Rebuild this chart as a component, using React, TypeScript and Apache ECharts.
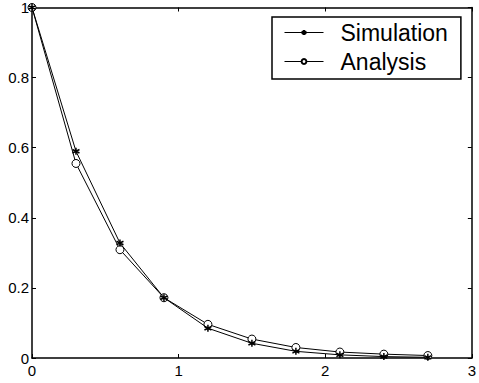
import React, { useEffect, useRef } from "react";
import * as echarts from "echarts";

const xValues = [0, 0.3, 0.6, 0.9, 1.2, 1.5, 1.8, 2.1, 2.4, 2.7];
const simulation = [1, 0.59, 0.328, 0.172, 0.085, 0.042, 0.019, 0.009, 0.004, 0.002];
const analysis = [1, 0.555, 0.309, 0.172, 0.096, 0.054, 0.03, 0.017, 0.011, 0.007];
const seriesNames = ["Simulation", "Analysis"];

const FONT = "Liberation Sans, Arial, Helvetica, sans-serif";
const STAR = "path://M0,-1L0,1M-0.87,-0.5L0.87,0.5M-0.87,0.5L0.87,-0.5";

export default function App() {
  const ref = useRef<HTMLDivElement>(null);
  useEffect(() => {
    if (!ref.current) return;
    const chart = echarts.init(ref.current, null, { renderer: "svg" });
    const axisCommon = {
      axisLine: { show: true, onZero: false, lineStyle: { color: "#000", width: 1.5 } },
      axisTick: { show: true, inside: true, length: 4, lineStyle: { color: "#000", width: 1 } },
      splitLine: { show: false },
    };
    chart.setOption({
      animation: false,
      backgroundColor: "#fff",
      grid: { left: 32, top: 6, right: 3, bottom: 25, show: false },
      legend: {
        orient: "vertical",
        left: 272,
        top: 17,
        data: seriesNames,
        backgroundColor: "#fff",
        borderColor: "#000",
        borderWidth: 1.5,
        padding: [4, 13, 6, 12],
        itemWidth: 39,
        itemHeight: 6,
        itemGap: 6,
        lineStyle: { width: 1 },
        textStyle: { color: "#000", fontSize: 23, fontFamily: FONT, lineHeight: 22, padding: [0, 0, 0, 12] },
      },
      xAxis: [
        {
          type: "value",
          min: 0,
          max: 3,
          interval: 1,
          position: "bottom",
          ...axisCommon,
          axisLabel: { color: "#000", fontSize: 15, fontFamily: FONT, margin: 5 },
        },
        {
          type: "value",
          min: 0,
          max: 3,
          interval: 1,
          position: "top",
          ...axisCommon,
          axisLabel: { show: false },
        },
      ],
      yAxis: [
        {
          type: "value",
          min: 0,
          max: 1,
          interval: 0.2,
          position: "left",
          ...axisCommon,
          axisLabel: { color: "#000", fontSize: 15, fontFamily: FONT, margin: 3 },
        },
        {
          type: "value",
          min: 0,
          max: 1,
          interval: 0.2,
          position: "right",
          ...axisCommon,
          axisLabel: { show: false },
        },
      ],
      series: [
        {
          name: seriesNames[0],
          type: "line",
          data: xValues.map((x, i) => [x, simulation[i]]),
          symbol: STAR,
          symbolSize: 7,
          showAllSymbol: true,
          lineStyle: { color: "#000", width: 1 },
          itemStyle: { color: "#000", borderColor: "#000", borderWidth: 1.5 },
          z: 3,
        },
        {
          name: seriesNames[1],
          type: "line",
          data: xValues.map((x, i) => [x, analysis[i]]),
          symbol: "circle",
          symbolSize: 8,
          showAllSymbol: true,
          lineStyle: { color: "#000", width: 1 },
          itemStyle: { color: "#fff", borderColor: "#000", borderWidth: 1 },
          z: 2,
        },
      ],
    });
    return () => chart.dispose();
  }, []);
  return <div ref={ref} style={{ width: 479, height: 383, position: "absolute", left: 0, top: 0 }} />;
}
